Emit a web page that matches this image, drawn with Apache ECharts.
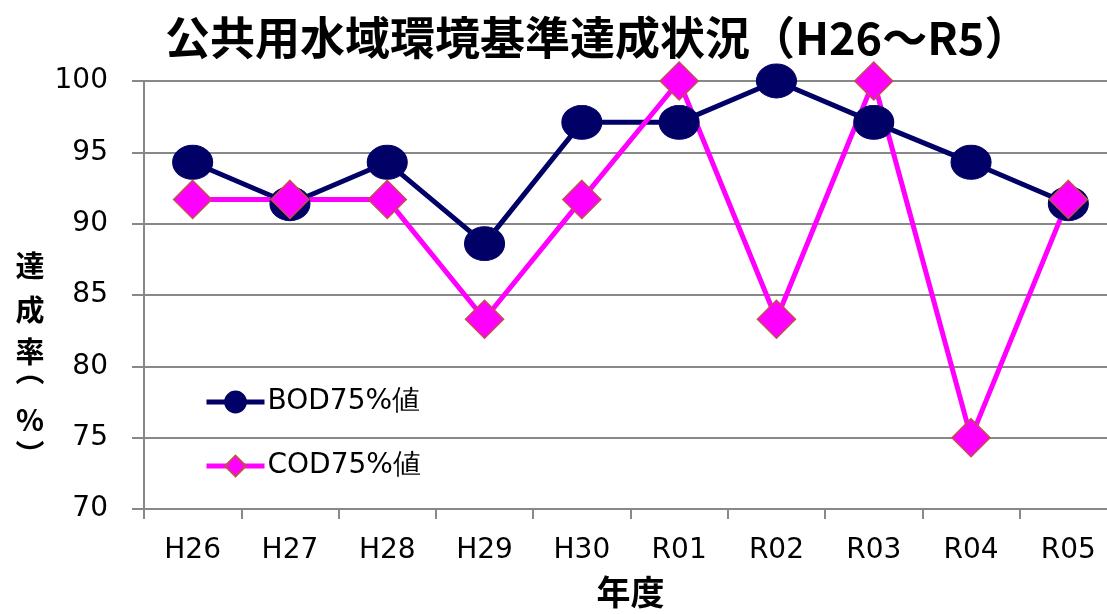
<!DOCTYPE html>
<html><head><meta charset="utf-8">
<script src="https://cdn.jsdelivr.net/npm/echarts@6/dist/echarts.min.js"></script>
<style>html,body{margin:0;padding:0;background:#fff;overflow:hidden}#c{width:1120px;height:614px}</style>
</head><body><div id="c"></div>
<script>
const categories = ['H26','H27','H28','H29','H30','R01','R02','R03','R04','R05'];
const bodValues = [94.3, 91.4, 94.3, 88.6, 97.1, 97.1, 100, 97.1, 94.3, 91.4];
const codValues = [91.7, 91.7, 91.7, 83.3, 91.7, 100, 83.3, 100, 75, 91.7];
const seriesNames = ['BOD75%値', 'COD75%値'];
const yTicks = {min: 70, max: 100, interval: 5};
const yAxisNameChars = ['達', '成', '率', '︵', '%', '︶'];
const yAxisNameY = [266, 310, 352, 371, 420, 455];

const chart = echarts.init(document.getElementById('c'));
const F = '"DejaVu Sans", Verdana, sans-serif';
const CJK = '"Noto Sans CJK JP", sans-serif';
chart.setOption({
  animation: false,
  title: {
    text: '公共用水域環境基準達成状況（H26～R5）',
    left: 160, top: 10,
    textStyle: {fontFamily: CJK, fontSize: 45, fontWeight: 'bold', color: '#000'}
  },
  grid: {left: 144, top: 81, width: 973, height: 431, containLabel: false},
  legend: {
    orient: 'vertical', left: 199, top: 383,
    itemWidth: 58, itemHeight: 26, itemGap: 36,
    lineStyle: {width: 5},
    textStyle: {fontFamily: F, fontSize: 28, color: '#000', padding: [0, 0, 0, -2]},
    data: seriesNames
  },
  graphic: yAxisNameChars.map((ch, i) => ({
    type: 'text', x: 30, y: yAxisNameY[i],
    style: {text: ch, font: 'bold 29px "Noto Sans CJK JP", sans-serif', fill: '#000', align: 'center', verticalAlign: 'middle'}
  })),
  xAxis: {
    type: 'category', data: categories, boundaryGap: true,
    name: '年度', nameLocation: 'middle', nameGap: 66,
    nameTextStyle: {fontFamily: CJK, fontSize: 34, fontWeight: 'bold', color: '#000'},
    axisLine: {lineStyle: {color: '#888', width: 2}},
    axisTick: {show: true, alignWithLabel: false, length: 10, lineStyle: {color: '#888', width: 2}},
    axisLabel: {fontFamily: F, fontSize: 28, color: '#000', margin: 28}
  },
  yAxis: {
    type: 'value', min: yTicks.min, max: yTicks.max, interval: yTicks.interval,
    axisLine: {show: true, lineStyle: {color: '#888', width: 2}},
    axisTick: {show: true, length: 12, lineStyle: {color: '#888', width: 2}},
    splitLine: {lineStyle: {color: '#888', width: 2}},
    axisLabel: {fontFamily: F, fontSize: 28, color: '#000', margin: 36}
  },
  series: [{
    name: seriesNames[0], type: 'line', data: bodValues,
    symbol: 'circle', symbolSize: [40, 34],
    lineStyle: {color: '#000066', width: 5},
    itemStyle: {color: '#000066', borderColor: '#000066', borderWidth: 1}
  }, {
    name: seriesNames[1], type: 'line', data: codValues,
    symbol: 'diamond', symbolSize: [38, 38],
    lineStyle: {color: '#ff00ff', width: 5},
    itemStyle: {color: '#ff00ff', borderColor: '#c0504d', borderWidth: 1.5}
  }]
});
</script></body></html>
